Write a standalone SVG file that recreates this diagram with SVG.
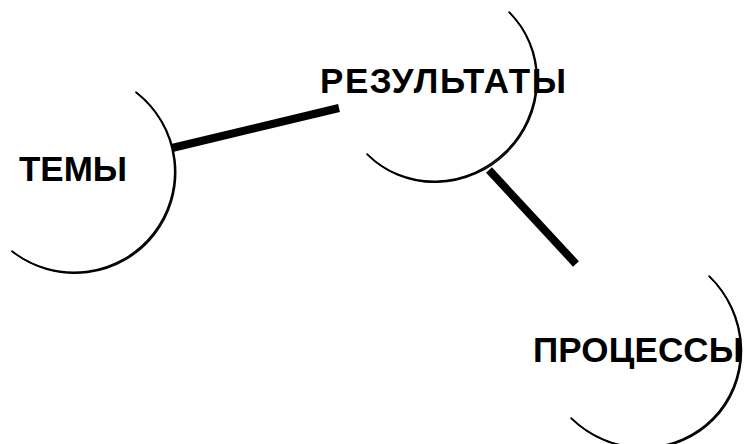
<svg xmlns="http://www.w3.org/2000/svg" xmlns:xlink="http://www.w3.org/1999/xlink" width="746" height="444" viewBox="0 0 746 444">
  <style>
    .arc { fill: none; stroke: #000; stroke-width: 1.4; stroke-linecap: round; }
    .arc-thick { fill: none; stroke: #000; stroke-width: 1.8; stroke-linecap: round; }
    .label { font-family: "Liberation Sans", Arial, Helvetica, sans-serif; font-weight: bold; font-size: 35px; fill: #000; }
    .link { stroke: #000; stroke-width: 8; stroke-linecap: butt; fill: none; }
  </style>
  <defs>
    <path id="arc-temy" d="M137,93 A100 100 -52 0 1 13,252"/>
    <path id="arc-rez" d="M510,13 A100 96 -45 0 1 368,155"/>
    <path id="arc-proc" d="M710,277 A98 101 -46 0 1 572,419"/>
  </defs>
  <rect width="746" height="444" fill="#fff"/>
  <g id="connectors">
    <line class="link" x1="172" y1="148" x2="339" y2="108"/>
    <line class="link" x1="489" y1="170" x2="576" y2="264"/>
  </g>
  <g id="node-temy">
    <use xlink:href="#arc-temy" href="#arc-temy" class="arc"/>
    <use xlink:href="#arc-temy" href="#arc-temy" class="arc-thick" transform="translate(-1,-0.8)"/>
    <text class="label" x="19" y="181" textLength="108">ТЕМЫ</text>
  </g>
  <g id="node-rezultaty">
    <use xlink:href="#arc-rez" href="#arc-rez" class="arc"/>
    <use xlink:href="#arc-rez" href="#arc-rez" class="arc-thick" transform="translate(-0.9,-0.9)"/>
    <text class="label" x="320" y="93" textLength="246">РЕЗУЛЬТАТЫ</text>
  </g>
  <g id="node-processy">
    <use xlink:href="#arc-proc" href="#arc-proc" class="arc"/>
    <use xlink:href="#arc-proc" href="#arc-proc" class="arc-thick" transform="translate(-0.9,-0.9)"/>
    <text class="label" x="533" y="362" textLength="210">ПРОЦЕССЫ</text>
  </g>
</svg>
